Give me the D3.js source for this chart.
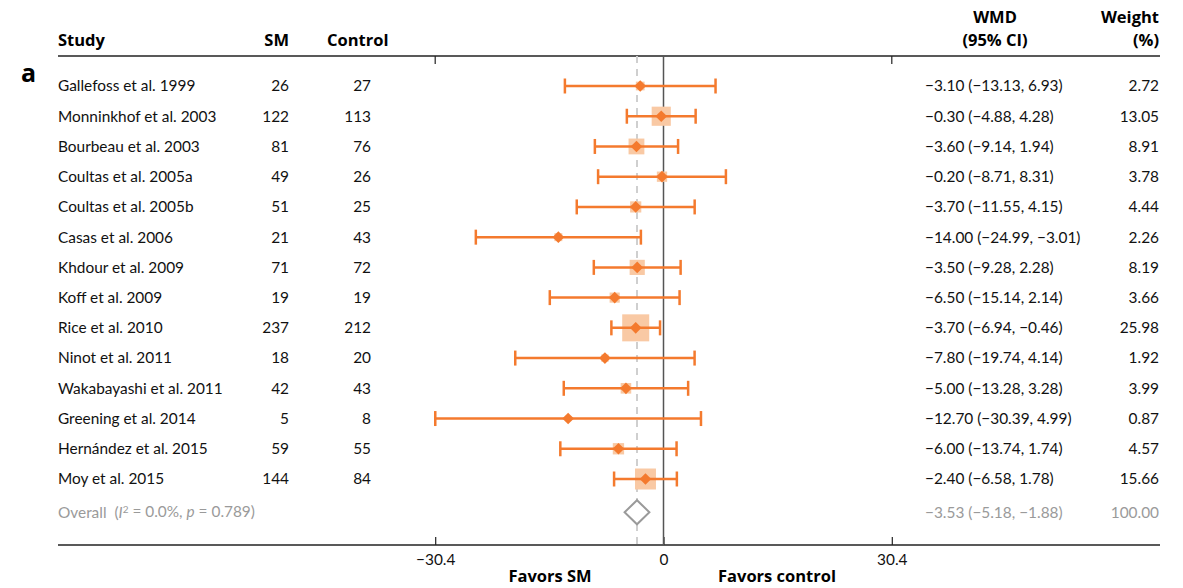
<!DOCTYPE html>
<html>
<head>
<meta charset="utf-8">
<script src="https://cdn.jsdelivr.net/npm/d3@7"></script>
<style>
  body { margin: 0; background: #fff; }
  text { font-family: Lato, "Open Sans", sans-serif; }
  text.bold { font-family: "Open Sans", Lato, sans-serif; font-weight: bold; }
</style>
</head>
<body>
<div id="chart"></div>
<script>
// study table
var studies = ["Gallefoss et al. 1999", "Monninkhof et al. 2003", "Bourbeau et al. 2003",
  "Coultas et al. 2005a", "Coultas et al. 2005b", "Casas et al. 2006", "Khdour et al. 2009",
  "Koff et al. 2009", "Rice et al. 2010", "Ninot et al. 2011", "Wakabayashi et al. 2011",
  "Greening et al. 2014", "Hernández et al. 2015", "Moy et al. 2015"];
var smN = [26, 122, 81, 49, 51, 21, 71, 19, 237, 18, 42, 5, 59, 144];
var ctrlN = [27, 113, 76, 26, 25, 43, 72, 19, 212, 20, 43, 8, 55, 84];
var wmd = [-3.10, -0.30, -3.60, -0.20, -3.70, -14.00, -3.50, -6.50, -3.70, -7.80, -5.00, -12.70, -6.00, -2.40];
var ciLo = [-13.13, -4.88, -9.14, -8.71, -11.55, -24.99, -9.28, -15.14, -6.94, -19.74, -13.28, -30.39, -13.74, -6.58];
var ciHi = [6.93, 4.28, 1.94, 8.31, 4.15, -3.01, 2.28, 2.14, -0.46, 4.14, 3.28, 4.99, 1.74, 1.78];
var weights = [2.72, 13.05, 8.91, 3.78, 4.44, 2.26, 8.19, 3.66, 25.98, 1.92, 3.99, 0.87, 4.57, 15.66];

// overall
var overall = { wmd: -3.53, lo: -5.18, hi: -1.88, weight: 100.00 };
var axisTicks = [-30.4, 0, 30.4];

var W = 1183, H = 588;
var orange = "#f47a2e", squareFill = "#f9c9a4", grey = "#9a9a9a";

var svg = d3.select("#chart").append("svg")
  .attr("width", W).attr("height", H);

var x = d3.scaleLinear().domain([-30.4, 30.4]).range([435.2, 891.8]);
var y = d3.scaleLinear().domain([0, studies.length - 1]).range([86, 479]);
var yOverall = y(studies.length + 0.1);
var side = d3.scaleSqrt().domain([0, 100]).range([0, 53]);

var topY = 56, botY = 545, left = 58, right = 1160;
var fmt = d3.format(".2f");
var fs = "15.4px";

// panel letter + headers
svg.append("text").attr("class", "bold").attr("x", 21).attr("y", 82).text("a")
  .attr("font-size", "25px");
var head = [
  { t: "Study", x: left, a: "start", y: 46 },
  { t: "SM", x: 289, a: "end", y: 46 },
  { t: "Control", x: 327, a: "start", y: 46 },
  { t: "WMD", x: 995, a: "middle", y: 23 },
  { t: "(95% CI)", x: 995, a: "middle", y: 46 },
  { t: "Weight", x: 1159, a: "end", y: 23 },
  { t: "(%)", x: 1159, a: "end", y: 46 }
];
svg.selectAll("text.head").data(head).enter().append("text")
  .attr("class", "head bold")
  .attr("x", function(d) { return d.x; })
  .attr("y", function(d) { return d.y; })
  .attr("text-anchor", function(d) { return d.a; })
  .attr("font-size", "16.5px")
  .text(function(d) { return d.t; });

// rule lines
svg.append("line").attr("x1", left).attr("x2", right).attr("y1", topY).attr("y2", topY)
  .attr("stroke", "#222").attr("stroke-width", 1.5);
svg.append("line").attr("x1", left).attr("x2", right).attr("y1", botY).attr("y2", botY)
  .attr("stroke", "#222").attr("stroke-width", 1.5);

// top ticks
svg.selectAll("line.ttick").data([-30.4, 30.4]).enter().append("line")
  .attr("x1", function(d) { return x(d); }).attr("x2", function(d) { return x(d); })
  .attr("y1", topY).attr("y2", topY + 8)
  .attr("stroke", "#222").attr("stroke-width", 1.2);

// bottom axis
var axis = d3.axisBottom(x).tickValues(axisTicks).tickSizeInner(-8).tickSizeOuter(0).tickPadding(9)
  .tickFormat(function(d) { return d === 0 ? "0" : d3.format(".1f")(d); });
var ax = svg.append("g").attr("transform", "translate(0," + botY + ")").call(axis);
ax.select(".domain").remove();
ax.selectAll(".tick line").attr("stroke", "#222").attr("stroke-width", 1.2);
ax.selectAll(".tick text").attr("font-size", fs).attr("fill", "#111")
  .attr("font-family", "Lato, 'Open Sans', sans-serif");

svg.append("text").attr("class", "bold").attr("x", 550).attr("y", 582).attr("text-anchor", "middle")
  .attr("font-size", "16.5px").text("Favors SM");
svg.append("text").attr("class", "bold").attr("x", 777).attr("y", 582).attr("text-anchor", "middle")
  .attr("font-size", "16.5px").text("Favors control");

// reference lines
svg.append("line").attr("x1", x(overall.wmd)).attr("x2", x(overall.wmd))
  .attr("y1", topY).attr("y2", botY)
  .attr("stroke", "#cfcfcf").attr("stroke-width", 2).attr("stroke-dasharray", "7,6");
svg.append("line").attr("x1", x(0)).attr("x2", x(0)).attr("y1", topY).attr("y2", botY)
  .attr("stroke", "#555").attr("stroke-width", 1.5);

var rows = studies.map(function(s, i) {
  return { name: s, sm: smN[i], ctrl: ctrlN[i], est: wmd[i], lo: ciLo[i], hi: ciHi[i], w: weights[i], i: i };
});

var g = svg.selectAll("g.row").data(rows).enter().append("g").attr("class", "row");

// weight squares
g.append("rect")
  .attr("x", function(d) { return x(d.est) - side(d.w) / 2; })
  .attr("y", function(d) { return y(d.i) - side(d.w) / 2; })
  .attr("width", function(d) { return side(d.w); })
  .attr("height", function(d) { return side(d.w); })
  .attr("fill", squareFill);

// CI lines and caps
g.append("line")
  .attr("x1", function(d) { return x(d.lo); }).attr("x2", function(d) { return x(d.hi); })
  .attr("y1", function(d) { return y(d.i); }).attr("y2", function(d) { return y(d.i); })
  .attr("stroke", orange).attr("stroke-width", 2.5);
["lo", "hi"].forEach(function(k) {
  g.append("line")
    .attr("x1", function(d) { return x(d[k]); }).attr("x2", function(d) { return x(d[k]); })
    .attr("y1", function(d) { return y(d.i) - 7.5; }).attr("y2", function(d) { return y(d.i) + 7.5; })
    .attr("stroke", orange).attr("stroke-width", 2.5);
});

// point diamonds
g.append("path")
  .attr("d", d3.symbol(d3.symbolSquare, 68))
  .attr("transform", function(d) { return "translate(" + x(d.est) + "," + y(d.i) + ") rotate(45)"; })
  .attr("fill", orange);

// text columns
g.append("text").attr("x", left).attr("y", function(d) { return y(d.i); }).attr("dy", "0.35em")
  .attr("font-size", fs).attr("fill", "#111").text(function(d) { return d.name; });
g.append("text").attr("x", 289).attr("y", function(d) { return y(d.i); }).attr("dy", "0.35em")
  .attr("text-anchor", "end").attr("font-size", fs).attr("fill", "#111").text(function(d) { return d.sm; });
g.append("text").attr("x", 371).attr("y", function(d) { return y(d.i); }).attr("dy", "0.35em")
  .attr("text-anchor", "end").attr("font-size", fs).attr("fill", "#111").text(function(d) { return d.ctrl; });
g.append("text").attr("x", 925).attr("y", function(d) { return y(d.i); }).attr("dy", "0.35em")
  .attr("font-size", fs).attr("fill", "#111")
  .text(function(d) { return fmt(d.est) + " (" + fmt(d.lo) + ", " + fmt(d.hi) + ")"; });
g.append("text").attr("x", 1159).attr("y", function(d) { return y(d.i); }).attr("dy", "0.35em")
  .attr("text-anchor", "end").attr("font-size", fs).attr("fill", "#111")
  .text(function(d) { return fmt(d.w); });

// overall row
var ot = svg.append("text").attr("x", left).attr("y", yOverall).attr("dy", "0.35em")
  .attr("font-size", fs).attr("fill", grey).attr("xml:space", "preserve");
ot.append("tspan").text("Overall  (");
ot.append("tspan").attr("font-style", "italic").text("I");
ot.append("tspan").attr("font-size", "10px").attr("dy", "-0.5em").text("2");
ot.append("tspan").attr("dy", "0.3em").text(" = 0.0%, ");
ot.append("tspan").attr("font-style", "italic").text("p");
ot.append("tspan").text(" = 0.789)");

var dh = 12;
svg.append("path")
  .attr("d", "M" + x(overall.lo) + "," + yOverall + "L" + x(overall.wmd) + "," + (yOverall - dh) +
    "L" + x(overall.hi) + "," + yOverall + "L" + x(overall.wmd) + "," + (yOverall + dh) + "Z")
  .attr("fill", "#fff").attr("stroke", grey).attr("stroke-width", 2);

svg.append("text").attr("x", 925).attr("y", yOverall).attr("dy", "0.35em")
  .attr("font-size", fs).attr("fill", grey)
  .text(fmt(overall.wmd) + " (" + fmt(overall.lo) + ", " + fmt(overall.hi) + ")");
svg.append("text").attr("x", 1159).attr("y", yOverall).attr("dy", "0.35em")
  .attr("text-anchor", "end").attr("font-size", fs).attr("fill", grey)
  .text(fmt(overall.weight));
</script>
</body>
</html>
